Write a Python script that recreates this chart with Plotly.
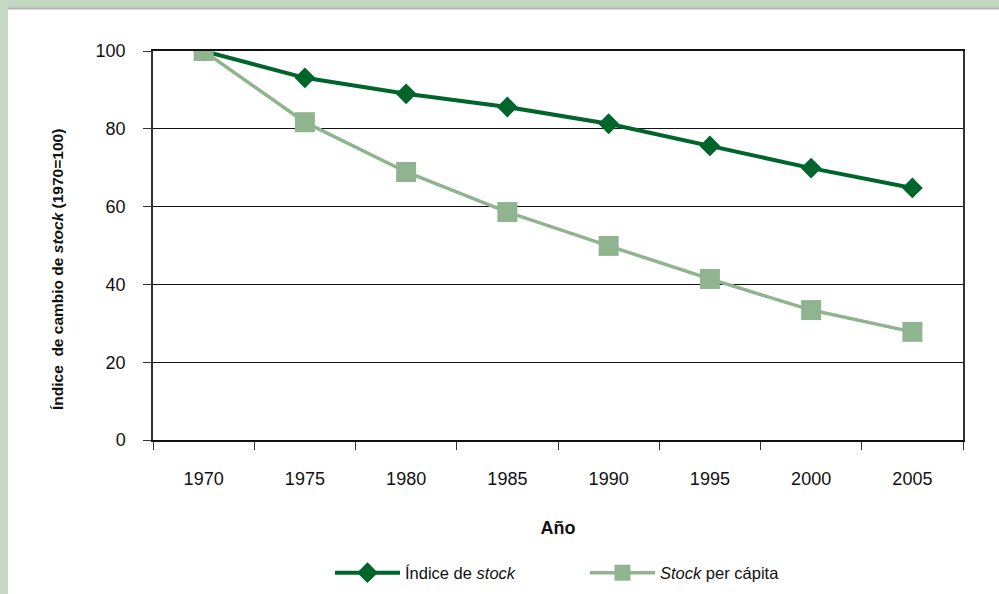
import plotly.graph_objects as go

years = ["1970", "1975", "1980", "1985", "1990", "1995", "2000", "2005"]
indice_stock = [100, 93.1, 89.0, 85.6, 81.3, 75.6, 69.9, 64.8]
stock_per_capita = [100, 81.7, 68.9, 58.6, 49.9, 41.4, 33.4, 27.8]
y_ticks = [0, 20, 40, 60, 80, 100]

DARK = "#00652a"
LIGHT = "#8fb48f"
FONT = "Liberation Sans Narrow, Arial Narrow, Liberation Sans, Arial, sans-serif"

fig = go.Figure()
fig.add_trace(go.Scatter(
    x=years, y=indice_stock, mode="lines+markers",
    name="Índice de <i>stock</i>",
    line=dict(color=DARK, width=4),
    marker=dict(symbol="diamond", size=16, color=DARK),
))
fig.add_trace(go.Scatter(
    x=years, y=stock_per_capita, mode="lines+markers",
    name="<i>Stock</i> per cápita",
    line=dict(color=LIGHT, width=3.5),
    marker=dict(symbol="square", size=20, color=LIGHT),
))

L, R, T, B = 153, 36, 51, 154
W, H = 999, 594
pw, ph = W - L - R, H - T - B

def px_x(x):
    return (x - L) / pw

def px_y(y):
    return (H - B - y) / ph

shapes = [
    dict(type="rect", xref="paper", yref="paper", layer="below",
         x0=px_x(8), x1=px_x(W + 5), y0=px_y(H + 5), y1=px_y(9),
         fillcolor="white", line=dict(width=0)),
    dict(type="line", xref="paper", yref="paper", layer="below",
         x0=px_x(8), x1=px_x(W + 5), y0=px_y(8.5), y1=px_y(8.5),
         line=dict(color="#b4b4b4", width=2)),
]

annotations = [
    dict(text="<b>Índice  de cambio de <i>stock</i> (1970=100)</b>",
         xref="paper", yref="paper", x=px_x(57), y=px_y(270),
         xanchor="center", yanchor="middle", textangle=-90, showarrow=False,
         font=dict(size=15.5)),
]

fig.update_layout(
    width=W, height=H,
    margin=dict(l=L, r=R, t=T, b=B, pad=0),
    paper_bgcolor="#c5d8c1",
    plot_bgcolor="white",
    font=dict(family=FONT, size=18, color="#111111"),
    shapes=shapes,
    annotations=annotations,
    showlegend=True,
    legend=dict(orientation="h", xref="container", yref="container",
                x=330 / W, xanchor="left", y=(H - 573) / H, yanchor="middle",
                font=dict(size=16.5), itemwidth=65, bgcolor="rgba(0,0,0,0)",
                entrywidth=175, entrywidthmode="pixels"),
    xaxis=dict(
        type="category", tickson="boundaries", ticks="outside", ticklen=8,
        tickcolor="#333", showline=True, linecolor="#111", linewidth=1.5, mirror=True,
        showgrid=False, ticklabelstandoff=22,
        title=dict(text="<b>Año</b>", font=dict(size=18), standoff=33),
        range=[-0.5, 7.5],
    ),
    yaxis=dict(
        range=[0, 100], tickvals=y_ticks, ticks="outside", ticklen=8, tickcolor="#333",
        showline=True, linecolor="#333", linewidth=1.5, mirror=True,
        gridcolor="#111", gridwidth=1, zeroline=False, ticklabelstandoff=14,
    ),
)

fig.write_html("out.html", config={"displayModeBar": False},
               post_script="document.body.style.margin='0';")
